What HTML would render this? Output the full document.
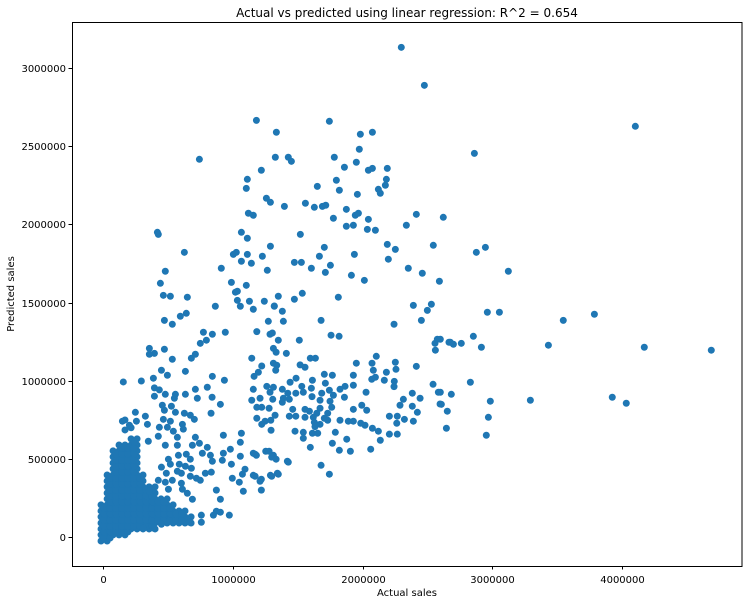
<!DOCTYPE html>
<html><head><meta charset="utf-8"><style>
html,body{margin:0;padding:0;background:#fff;}
svg text{font-family:"DejaVu Sans","Liberation Sans",sans-serif;fill:#000;}
</style></head><body>
<svg id="chart" width="748" height="604" viewBox="0 0 748 604" xmlns="http://www.w3.org/2000/svg">
<rect x="0" y="0" width="748" height="604" fill="#fff"/>
<text x="407" y="17" font-size="12" text-anchor="middle">Actual vs predicted using linear regression: R^2 = 0.654</text>
<text x="407" y="596" font-size="10" text-anchor="middle">Actual sales</text>
<text x="14" y="294" font-size="10" text-anchor="middle" transform="rotate(-90 14 294)">Predicted sales</text>
<g id="points"></g>
<g id="xticks"></g>
<g id="yticks"></g>
<rect x="72.5" y="22.5" width="669.5" height="544" fill="none" stroke="#000" stroke-width="1"/>
</svg>
<script>
// values in thousands of sales: [actual, predicted]
const xTicks = [0, 1000, 2000, 3000, 4000];
const xTickLabels = ["0", "1000000", "2000000", "3000000", "4000000"];
const yTicks = [0, 500, 1000, 1500, 2000, 2500, 3000];
const yTickLabels = ["0", "500000", "1000000", "1500000", "2000000", "2500000", "3000000"];
const xDomain = [-242, 4928];
const yDomain = [-184, 3295];

const highPoints = [[2299,3133],[2477,2890],[1181,2666],[1744,2660],[1335,2590],[1983,2577],[2076,2590],[1975,2481],[741,2417],[1327,2430],[1427,2430],[1451,2404],[1782,2430],[1860,2366],[1952,2398],[2045,2347],[2076,2359],[2191,2359],[1219,2347],[1111,2289],[1103,2231],[1798,2283],[2184,2289],[2176,2251],[1651,2244],[1821,2219],[1960,2193],[2122,2225],[2137,2200],[1258,2168],[1289,2142],[1397,2116],[1559,2136],[1628,2110],[1690,2116],[1716,2123],[1875,2097],[1944,2059],[1968,2072],[1775,2040],[2045,2033],[2415,2065],[2623,2046],[2338,1995],[1119,2072],[1157,2059],[417,1950],[424,1937],[1065,1950],[1111,1912],[1520,1937],[1875,1989],[1929,1995],[2037,1969],[2099,1963],[625,1822],[1003,1809],[1026,1822],[1111,1809],[1289,1861],[1227,1797],[1065,1765],[1142,1752],[1705,1854],[1667,1797],[1937,1809],[2191,1873],[2253,1841],[2546,1867],[2199,1778],[1474,1758],[1528,1758],[1605,1720],[1752,1739],[1713,1694],[1914,1675],[2014,1643],[2353,1720],[2461,1688],[2593,1637],[478,1701],[910,1720],[1265,1707],[440,1624],[463,1547],[517,1541],[648,1535],[988,1630],[1103,1611],[1019,1567],[1034,1573],[1034,1515],[1127,1509],[1242,1509],[1350,1541],[1474,1522],[1535,1560],[1813,1535],[864,1477],[1057,1477],[1319,1477],[2392,1483],[2531,1490]];

const rightPoints = [[4105,2628],[2863,2455],[2878,1822],[2948,1854],[3125,1701],[2963,1439],[3056,1439],[3549,1387],[3789,1426],[2677,1247],[2701,1234],[2762,1240],[2855,1285],[2917,1215],[3434,1228],[4174,1215],[4691,1196],[2600,1266],[2832,991],[2685,914],[2600,927],[2608,850],[2654,806],[2986,870],[3295,876],[3927,895],[4035,857],[2971,767],[2647,697],[2955,652]];

const midPoints = [[1319,1479],[1381,1445],[1157,1458],[1273,1381],[1389,1381],[1680,1387],[1184,1315],[1286,1298],[1304,1306],[1350,1260],[1512,1260],[1757,1292],[1819,1285],[2243,1362],[2500,1451],[2454,1387],[2559,1240],[2577,1266],[2562,1196],[2667,1247],[1312,1208],[1333,1183],[1412,1176],[1145,1145],[1597,1145],[1636,1145],[2106,1157],[1952,1113],[2073,1113],[2253,1119],[2415,1093],[1222,1095],[1312,1113],[1338,1100],[1518,1102],[1556,1087],[1330,1068],[2083,1068],[2184,1055],[2258,1074],[1196,1055],[1163,1029],[1705,1042],[1767,1036],[1929,1036],[2099,1023],[2071,1010],[2168,1004],[2245,997],[2243,963],[1613,1004],[1487,1017],[1441,991],[1713,985],[1929,972],[1865,965],[2544,978],[1157,946],[1261,965],[1312,959],[1381,946],[1531,965],[1605,953],[1744,940],[1826,946],[2027,927],[2384,921],[2585,927],[1286,927],[1423,921],[1485,921],[1543,927],[1685,921],[1775,908],[1610,899],[1860,895],[2444,889],[2315,882],[1209,889],[1307,882],[1389,889],[1435,882],[1145,876],[1672,876],[1749,870],[1381,863],[2289,844],[2384,838],[2598,852],[1184,831],[1222,831],[1279,825],[1461,818],[1556,818],[1590,806],[1672,825],[1762,831],[1929,818],[1994,844],[2032,812],[2423,799],[1647,793],[1731,793],[1325,780],[1435,774],[1485,774],[1556,767],[1620,767],[1705,761],[2207,774],[2268,774],[2323,754],[2392,742],[1184,761],[1292,748],[1826,748],[1890,742],[1929,742],[1986,729],[2264,729],[1628,735],[1731,748],[1248,742],[1222,722],[2019,716],[1672,722],[1633,707],[2076,697],[2122,678],[1294,684],[1479,678],[1543,671],[1613,665],[1654,665],[1790,671],[2207,659],[2268,659],[1543,633],[1878,627],[2137,620],[1767,601],[1597,575],[2063,563],[1821,556],[1906,550],[1171,531],[1253,550],[1279,550],[1299,512],[1333,499],[1427,480],[1680,460],[1744,403],[1299,390],[1350,403],[1171,390],[1209,358]];

const lowPoints = [[471,1387],[532,1362],[594,1413],[640,1432],[355,1208],[394,1176],[355,1170],[471,1202],[532,1138],[772,1311],[841,1298],[941,1311],[748,1240],[795,1260],[679,1145],[710,1170],[154,993],[293,999],[386,1017],[448,1068],[494,1036],[633,1061],[394,955],[432,942],[394,902],[478,914],[556,914],[548,889],[633,914],[710,946],[725,889],[802,959],[841,1029],[934,1004],[839,895],[903,850],[831,793],[455,844],[471,812],[525,838],[556,799],[625,793],[671,780],[247,799],[324,774],[147,742],[201,716],[255,742],[340,722],[463,754],[517,742],[610,722],[702,754],[432,703],[494,703],[540,678],[617,691],[710,639],[926,652],[1065,665],[424,646],[571,639],[347,614],[478,588],[571,588],[687,588],[741,601],[764,537],[802,575],[980,563],[1057,607],[1057,518],[988,467],[926,537],[918,492],[826,524],[841,486],[833,416],[640,531],[671,499],[579,524],[502,499],[517,467],[586,467],[633,454],[679,441],[571,422],[602,409],[671,390],[718,377],[787,409],[748,364],[448,448],[486,409],[424,364],[478,352],[532,364],[602,345],[610,307],[648,281],[687,243],[502,307],[355,294],[1073,403],[1093,435],[1157,537],[1181,524],[1157,396],[1219,371],[1219,301],[1080,294],[1289,396],[1343,409],[1049,352],[995,377],[872,301],[903,243],[872,166],[903,160],[972,141],[849,141],[756,141],[756,96],[664,96],[386,58],[309,58],[448,83],[1420,486],[1312,524]];

const clusterPoints = [
[-18,-24],[-18,15],[-18,53],[-18,91],[-18,130],[-18,168],[-18,207],
[29,-24],[29,15],[29,53],[29,91],[29,130],[29,168],[29,207],[29,245],[29,283],[29,322],[29,360],[29,398],
[75,15],[75,53],[75,91],[75,130],[75,168],[75,207],[75,245],[75,283],[75,322],[75,360],[75,398],[75,437],[75,475],[75,514],[75,552],
[121,15],[121,53],[121,91],[121,130],[121,168],[121,207],[121,245],[121,283],[121,322],[121,360],[121,398],[121,437],[121,475],[121,514],[121,552],[121,590],
[167,15],[167,53],[167,91],[167,130],[167,168],[167,207],[167,245],[167,283],[167,322],[167,360],[167,398],[167,437],[167,475],[167,514],[167,552],[167,590],[167,686],[167,750],
[214,53],[214,91],[214,130],[214,168],[214,207],[214,245],[214,283],[214,322],[214,360],[214,398],[214,437],[214,475],[214,514],[214,552],[214,590],[214,629],[214,700],
[260,53],[260,91],[260,130],[260,168],[260,207],[260,245],[260,283],[260,322],[260,360],[260,398],[260,437],[260,475],[260,514],[260,552],[260,590],[260,629],
[306,53],[306,91],[306,130],[306,168],[306,207],[306,245],[306,283],[306,322],[306,360],[306,398],
[353,53],[353,91],[353,130],[353,168],[353,207],[353,245],[353,283],[353,322],
[399,53],[399,91],[399,130],[399,168],[399,207],[399,245],[399,283],[399,322],
[445,91],[445,130],[445,168],[445,207],[445,245],
[492,91],[492,130],[492,168],[492,207],[492,245],
[538,91],[538,130],[538,168],[538,207],
[584,91],[584,130],[584,168],
[630,91],[630,130],[630,168],
[677,91],[677,130]];

const clusterFill = [
[6,-5],[6,34],[6,72],[6,110],[6,149],[6,187],
[52,-5],[52,34],[52,72],[52,110],[52,149],[52,187],[52,226],[52,264],[52,302],[52,341],[52,379],
[98,34],[98,72],[98,110],[98,149],[98,187],[98,226],[98,264],[98,302],[98,341],[98,379],[98,418],[98,456],[98,494],[98,533],
[144,34],[144,72],[144,110],[144,149],[144,187],[144,226],[144,264],[144,302],[144,341],[144,379],[144,418],[144,456],[144,494],[144,533],[144,571],
[190,34],[190,72],[190,110],[190,149],[190,187],[190,226],[190,264],[190,302],[190,341],[190,379],[190,418],[190,456],[190,494],[190,533],[190,571],
[237,72],[237,110],[237,149],[237,187],[237,226],[237,264],[237,302],[237,341],[237,379],[237,418],[237,456],[237,494],[237,533],[237,571],[237,610],
[283,72],[283,110],[283,149],[283,187],[283,226],[283,264],[283,302],[283,341],[283,379],
[330,72],[330,110],[330,149],[330,187],[330,226],[330,264],[330,302],
[376,72],[376,110],[376,149],[376,187],[376,226],[376,264],[376,302],
[422,110],[422,149],[422,187],[422,226],
[468,110],[468,149],[468,187],[468,226],
[515,110],[515,149],[515,187],
[561,110],[561,149],
[607,110],[607,149],
[653,110]];

const plot = {left: 72, right: 742, top: 22, bottom: 566};
function xScale(v){ return plot.left + (v - xDomain[0]) / (xDomain[1] - xDomain[0]) * (plot.right - plot.left); }
function yScale(v){ return plot.bottom - (v - yDomain[0]) / (yDomain[1] - yDomain[0]) * (plot.bottom - plot.top); }

const NS = "http://www.w3.org/2000/svg";
const gPts = document.getElementById("points");
[clusterPoints, clusterFill, lowPoints, midPoints, rightPoints, highPoints].forEach(function(group){
  group.forEach(function(p){
    const c = document.createElementNS(NS, "circle");
    c.setAttribute("cx", xScale(p[0]).toFixed(2));
    c.setAttribute("cy", yScale(p[1]).toFixed(2));
    c.setAttribute("r", "3.5");
    c.setAttribute("fill", "#1f77b4");
    
    
    gPts.appendChild(c);
  });
});

const gx = document.getElementById("xticks");
xTicks.forEach(function(t, i){
  const x = Math.round(xScale(t)) + 0.5;
  const ln = document.createElementNS(NS, "line");
  ln.setAttribute("x1", x); ln.setAttribute("x2", x);
  ln.setAttribute("y1", plot.bottom); ln.setAttribute("y2", plot.bottom + 3.5);
  ln.setAttribute("stroke", "#000");
  
  
  gx.appendChild(ln);
  const tx = document.createElementNS(NS, "text");
  tx.setAttribute("x", x); tx.setAttribute("y", plot.bottom + 17);
  tx.setAttribute("font-size", "10"); tx.setAttribute("text-anchor", "middle");
  tx.textContent = xTickLabels[i];
  
  
  gx.appendChild(tx);
});
const gy = document.getElementById("yticks");
yTicks.forEach(function(t, i){
  const y = Math.round(yScale(t)) + 0.5;
  const ln = document.createElementNS(NS, "line");
  ln.setAttribute("x1", plot.left - 3.5); ln.setAttribute("x2", plot.left);
  ln.setAttribute("y1", y); ln.setAttribute("y2", y);
  ln.setAttribute("stroke", "#000");
  
  
  gy.appendChild(ln);
  const tx = document.createElementNS(NS, "text");
  tx.setAttribute("x", plot.left - 6); tx.setAttribute("y", y + 3.5);
  tx.setAttribute("font-size", "10"); tx.setAttribute("text-anchor", "end");
  tx.textContent = yTickLabels[i];
  
  
  gy.appendChild(tx);
});
</script>
</body></html>
